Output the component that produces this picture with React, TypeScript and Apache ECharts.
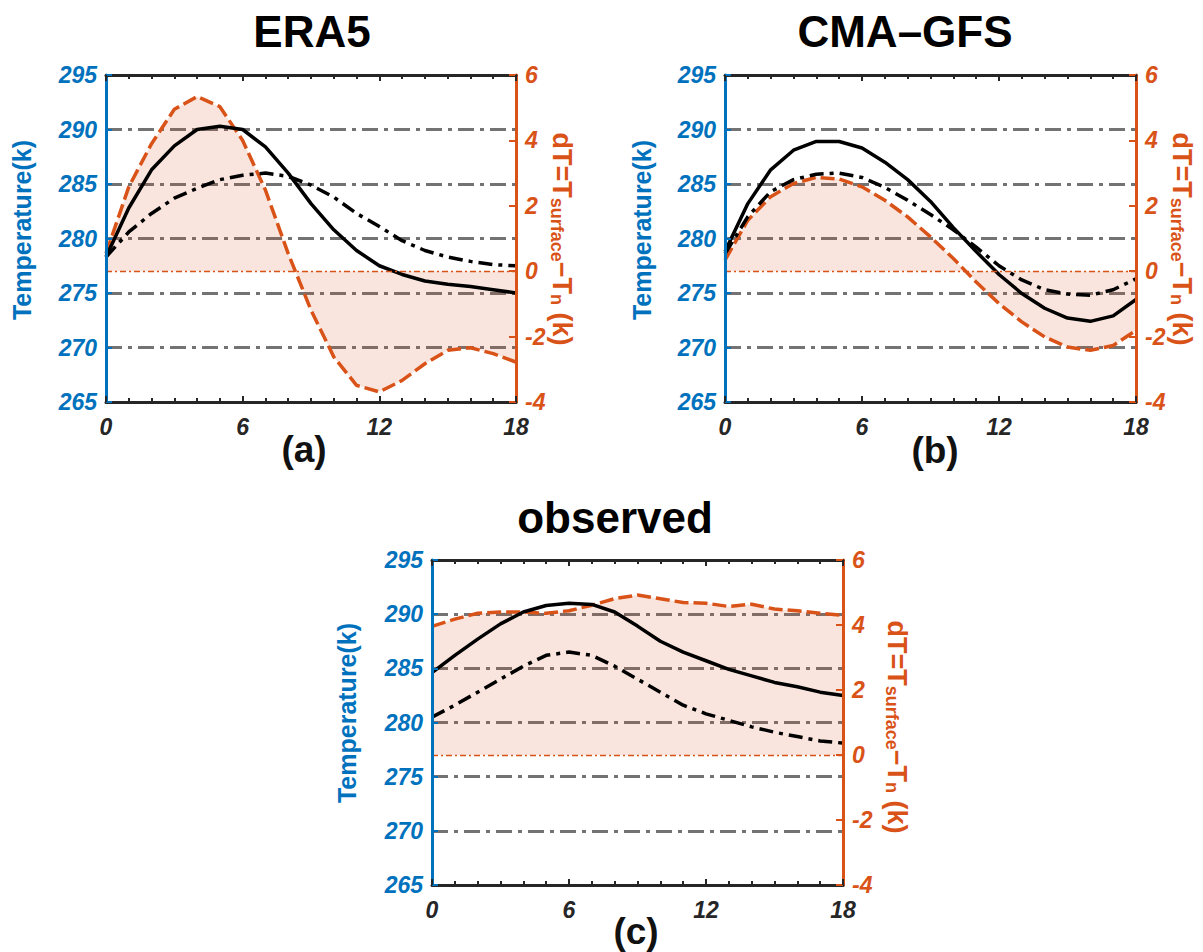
import React, { useEffect, useRef } from "react";
import * as echarts from "echarts";

const hours = [0, 1, 2, 3, 4, 5, 6, 7, 8, 9, 10, 11, 12, 13, 14, 15, 16, 17, 18];
const xTickLabels = ["0", "6", "12", "18"];

const eraSolid = [278.3, 282.8, 286.3, 288.5, 290.0, 290.3, 290.0, 288.4, 286.0, 283.2, 280.8, 278.9, 277.5, 276.7, 276.1, 275.8, 275.6, 275.3, 275.0];
const eraDash = [278.3, 280.6, 282.3, 283.7, 284.6, 285.4, 285.8, 286.0, 285.7, 284.9, 283.8, 282.3, 281.1, 279.8, 278.9, 278.3, 277.9, 277.6, 277.5];
const eraDT = [0.54, 2.58, 3.9, 4.95, 5.34, 5.03, 4.0, 2.48, 0.54, -1.19, -2.62, -3.49, -3.69, -3.34, -2.83, -2.42, -2.34, -2.52, -2.78];

const cmaSolid = [278.8, 283.2, 286.3, 288.1, 288.9, 288.9, 288.3, 287.0, 285.4, 283.4, 281.0, 278.8, 276.7, 274.95, 273.6, 272.7, 272.4, 272.9, 274.4];
const cmaDash = [278.6, 282.0, 284.3, 285.4, 285.9, 286.0, 285.6, 284.7, 283.5, 282.2, 280.8, 279.2, 277.5, 276.2, 275.3, 274.9, 274.8, 275.3, 276.3];
const cmaDT = [0.34, 1.56, 2.28, 2.68, 2.87, 2.82, 2.58, 2.17, 1.66, 1.05, 0.39, -0.33, -0.99, -1.55, -2.01, -2.32, -2.42, -2.27, -1.81];

const obsSolid = [284.6, 286.2, 287.7, 289.1, 290.2, 290.8, 291.0, 290.9, 290.2, 288.9, 287.5, 286.5, 285.7, 284.9, 284.3, 283.7, 283.3, 282.8, 282.5];
const obsDash = [280.5, 281.6, 282.8, 284.0, 285.2, 286.2, 286.5, 286.2, 285.2, 284.0, 282.8, 281.6, 280.8, 280.2, 279.6, 279.1, 278.7, 278.3, 278.1];
const obsDT = [3.96, 4.18, 4.36, 4.4, 4.4, 4.36, 4.44, 4.61, 4.81, 4.92, 4.81, 4.69, 4.67, 4.57, 4.64, 4.49, 4.44, 4.36, 4.3];

const panelTitles = ["ERA5", "CMA–GFS", "observed"];
const panelLetters = ["(a)", "(b)", "(c)"];
const leftAxisName = "Temperature(k)";

const BLUE = "#0072BD";
const ORANGE = "#D95319";
const DARK = "#262626";
const FONT = "'Liberation Sans', Arial, Helvetica, sans-serif";

const panels = [
  {
    grid: { left: 106, top: 75, width: 410, height: 327 },
    solid: eraSolid, dash: eraDash, dt: eraDT,
    title: { x: 312, y: 31 }, letter: { x: 304, y: 449 },
    leftName: { x: 22, y: 230 }, rightName: { x: 563, y: 239 },
  },
  {
    grid: { left: 725, top: 75, width: 411, height: 327 },
    solid: cmaSolid, dash: cmaDash, dt: cmaDT,
    title: { x: 905, y: 31 }, letter: { x: 935, y: 450 },
    leftName: { x: 642, y: 230 }, rightName: { x: 1183, y: 239 },
  },
  {
    grid: { left: 432, top: 560, width: 411, height: 325 },
    solid: obsSolid, dash: obsDash, dt: obsDT,
    title: { x: 615, y: 517 }, letter: { x: 636, y: 931 },
    leftName: { x: 347, y: 713 }, rightName: { x: 898, y: 727 },
  },
];

const pairs = (arr: number[]) => hours.map((h, i) => [h, arr[i]]);

function buildOption() {
  const grid: any[] = [];
  const xAxis: any[] = [];
  const yAxis: any[] = [];
  const series: any[] = [];
  const graphic: any[] = [];

  panels.forEach((p, i) => {
    grid.push({ ...p.grid, containLabel: false });
    const xBase = (pos: string, labels: boolean) => ({
      gridIndex: i,
      type: "value",
      min: 0,
      max: 18,
      interval: 6,
      position: pos,
      z: 5,
      axisLine: { show: true, onZero: false, lineStyle: { color: DARK, width: 3 } },
      axisTick: { show: true, inside: true, length: 6, lineStyle: { color: DARK, width: 2 } },
      minorTick: { show: true, splitNumber: 6, length: 4, lineStyle: { color: DARK, width: 2 } },
      splitLine: { show: false },
      axisLabel: {
        show: labels,
        margin: 13,
        color: DARK,
        fontSize: 23,
        fontWeight: "bold",
        fontStyle: "italic",
        fontFamily: FONT,
        formatter: (v: number) => (xTickLabels.includes(String(v)) ? String(v) : ""),
      },
    });
    xAxis.push(xBase("bottom", true));
    xAxis.push(xBase("top", false));

    yAxis.push({
      gridIndex: i,
      type: "value",
      min: 265,
      max: 295,
      interval: 5,
      position: "left",
      z: 0,
      axisLine: { show: false, onZero: false },
      axisTick: { show: false },
      axisLabel: { show: false },
      splitLine: { show: true, lineStyle: { color: "#737373", width: 3, type: [16, 6, 4, 6] } },
    });
    yAxis.push({
      gridIndex: i,
      type: "value",
      min: 265,
      max: 295,
      interval: 5,
      position: "left",
      z: 5,
      axisLine: { show: true, onZero: false, lineStyle: { color: BLUE, width: 3 } },
      axisTick: { show: true, inside: true, length: 6, lineStyle: { color: BLUE, width: 2 } },
      splitLine: { show: false },
      axisLabel: {
        margin: 9,
        color: BLUE,
        fontSize: 23,
        fontWeight: "bold",
        fontStyle: "italic",
        fontFamily: FONT,
      },
    });
    yAxis.push({
      gridIndex: i,
      type: "value",
      min: -4,
      max: 6,
      interval: 2,
      position: "right",
      z: 5,
      axisLine: { show: true, onZero: false, lineStyle: { color: ORANGE, width: 3 } },
      axisTick: { show: true, inside: true, length: 7, lineStyle: { color: ORANGE, width: 2 } },
      splitLine: { show: false },
      axisLabel: {
        margin: 9,
        color: ORANGE,
        fontSize: 23,
        fontWeight: "bold",
        fontStyle: "italic",
        fontFamily: FONT,
      },
    });

    series.push({
      type: "line",
      xAxisIndex: 2 * i,
      yAxisIndex: 3 * i + 2,
      data: pairs(p.dt),
      symbol: "none",
      silent: true,
      z: 2,
      lineStyle: { color: ORANGE, width: 3.5, type: [14, 5] },
      areaStyle: { color: ORANGE, opacity: 0.15, origin: 0 },
      markLine: {
        silent: true,
        symbol: "none",
        label: { show: false },
        lineStyle: { color: ORANGE, width: 1.3, type: [6, 3, 2, 3] },
        data: [{ yAxis: 0 }],
      },
    });
    series.push({
      type: "line",
      xAxisIndex: 2 * i,
      yAxisIndex: 3 * i + 1,
      data: pairs(p.dash),
      symbol: "none",
      silent: true,
      z: 3,
      lineStyle: { color: "#000000", width: 3.5, type: [14, 6, 4, 6] },
    });
    series.push({
      type: "line",
      xAxisIndex: 2 * i,
      yAxisIndex: 3 * i + 1,
      data: pairs(p.solid),
      symbol: "none",
      silent: true,
      z: 3,
      lineStyle: { color: "#000000", width: 3.5 },
    });

    graphic.push({
      type: "text",
      x: p.title.x,
      y: p.title.y,
      style: {
        text: panelTitles[i],
        fill: "#000000",
        font: `bold 44px ${FONT}`,
        align: "center",
        verticalAlign: "middle",
      },
    });
    graphic.push({
      type: "text",
      x: p.letter.x,
      y: p.letter.y,
      style: {
        text: panelLetters[i],
        fill: "#111111",
        font: `bold 37px ${FONT}`,
        align: "center",
        verticalAlign: "middle",
      },
    });
    graphic.push({
      type: "text",
      x: p.leftName.x,
      y: p.leftName.y,
      rotation: Math.PI / 2,
      style: {
        text: leftAxisName,
        fill: BLUE,
        font: `bold 25px ${FONT}`,
        align: "center",
        verticalAlign: "middle",
      },
    });
    graphic.push({
      type: "text",
      x: p.rightName.x,
      y: p.rightName.y,
      rotation: -Math.PI / 2,
      style: {
        text: "{b|dT=T}{s|surface}{b|−T}{s|n}{b| (k)}",
        fill: ORANGE,
        align: "center",
        verticalAlign: "middle",
        rich: {
          b: { fontSize: 27, fontWeight: "bold", fontFamily: FONT, fill: ORANGE, color: ORANGE, lineHeight: 30, verticalAlign: "bottom" },
          s: { fontSize: 18, fontWeight: "bold", fontFamily: FONT, fill: ORANGE, color: ORANGE, lineHeight: 30, verticalAlign: "bottom" },
        },
      },
    });
  });

  return {
    animation: false,
    backgroundColor: "#ffffff",
    grid,
    xAxis,
    yAxis,
    series,
    graphic,
  };
}

export default function App() {
  const ref = useRef<HTMLDivElement>(null);
  useEffect(() => {
    if (!ref.current) return;
    const chart = echarts.init(ref.current, undefined, { renderer: "svg" });
    chart.setOption(buildOption() as any);
    return () => chart.dispose();
  }, []);
  return (
    <div
      ref={ref}
      style={{ position: "fixed", left: 0, top: 0, width: 1203, height: 952, background: "#fff" }}
    />
  );
}
